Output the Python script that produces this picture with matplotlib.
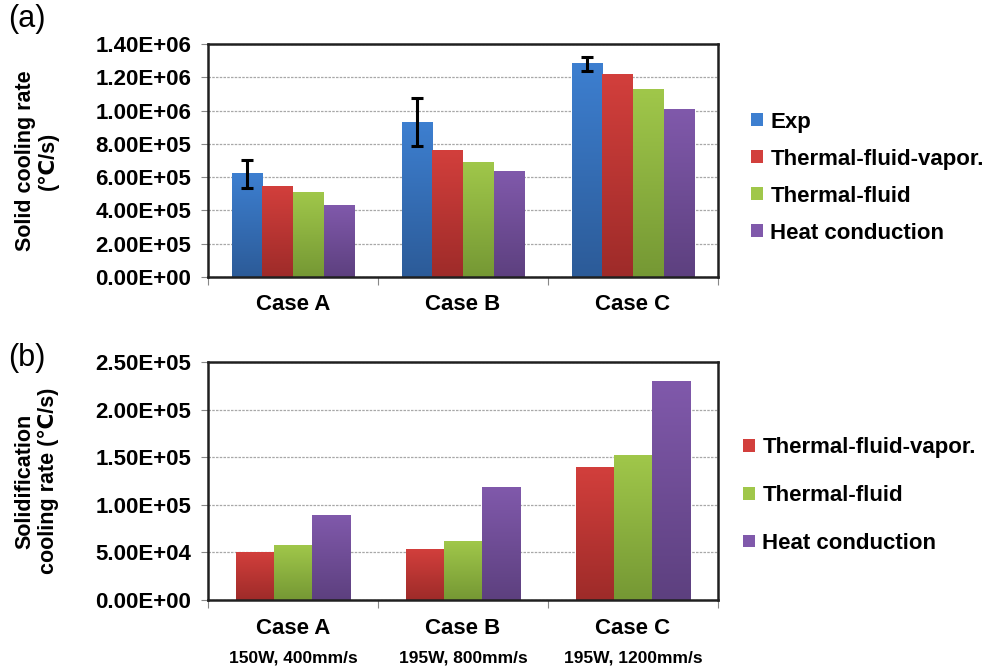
import numpy as np
import matplotlib
matplotlib.use("Agg")
import matplotlib.pyplot as plt
from matplotlib.colors import LinearSegmentedColormap
from matplotlib.patches import Patch
from matplotlib.ticker import FuncFormatter, FixedLocator

plt.rcParams['font.family'] = ['Liberation Sans', 'DejaVu Sans']

# Data
cases = ['Case A', 'Case B', 'Case C']
conditions = ['150W, 400mm/s', '195W, 800mm/s', '195W, 1200mm/s']

exp_solid = [6.2e5, 9.3e5, 1.28e6]
exp_err = [8.3e4, 1.45e5, 4.1e4]
tfv_solid = [5.45e5, 7.6e5, 1.215e6]
tf_solid = [5.1e5, 6.9e5, 1.125e6]
hc_solid = [4.3e5, 6.35e5, 1.005e6]

tfv_solidif = [5.0e4, 5.3e4, 1.39e5]
tf_solidif = [5.7e4, 6.1e4, 1.52e5]
hc_solidif = [8.9e4, 1.18e5, 2.29e5]

labels = ['Exp', 'Thermal-fluid-vapor.', 'Thermal-fluid', 'Heat conduction']
# (light top, dark bottom) for the Excel-like gradient
shades = {
    'Exp': ('#3d7fd0', '#2c5b98'),
    'Thermal-fluid-vapor.': ('#d23f3c', '#9e2b29'),
    'Thermal-fluid': ('#a0c74a', '#759834'),
    'Heat conduction': ('#8059ab', '#5d407f'),
}
legend_col = {k: v[0] for k, v in shades.items()}


def gradient_bars(ax, x, vals, width, name, **kw):
    bars = ax.bar(x, vals, width, color='none', edgecolor='none', zorder=2, **kw)
    cmap = LinearSegmentedColormap.from_list(name, [shades[name][1], shades[name][0]])
    grad = np.linspace(0, 1, 128).reshape(-1, 1)
    for b in bars:
        x0, w, h = b.get_x(), b.get_width(), b.get_height()
        ax.imshow(grad, extent=[x0, x0 + w, 0, h], origin='lower', aspect='auto',
                  cmap=cmap, zorder=2, interpolation='bilinear')
    return bars


def style_axes(ax, ymax, step):
    ax.set_xlim(-0.5, 2.5)
    ax.set_ylim(0, ymax)
    ax.set_yticks(np.arange(0, ymax + step / 2, step))
    ax.yaxis.set_major_formatter(FuncFormatter(lambda v, p: f"{v:.2E}"))
    ax.grid(axis='y', color='#a8a8a8', linestyle=(0, (2, 1)), linewidth=0.9, zorder=0)
    ax.set_axisbelow(True)
    for s in ax.spines.values():
        s.set_linewidth(1.8)
        s.set_color('#202020')
    ax.tick_params(axis='y', direction='out', length=5, color='#888888', width=0.8,
                   labelsize=16, pad=7)
    ax.set_xticks([])
    ax.xaxis.set_minor_locator(FixedLocator([-0.5, 0.5, 1.5, 2.5]))
    ax.tick_params(axis='x', which='minor', direction='out', length=6, color='#888888', width=0.8)
    for t in ax.get_yticklabels():
        t.set_fontweight('bold')


fig = plt.figure(figsize=(9.9, 6.68), dpi=100)
ax1 = fig.add_axes([0.2101, 0.5853, 0.5152, 0.3488])
ax2 = fig.add_axes([0.2101, 0.1018, 0.5152, 0.3563])

x = np.arange(len(cases))

# (a) solid cooling rate
w1 = 0.18
series1 = [exp_solid, tfv_solid, tf_solid, hc_solid]
for i, (vals, name) in enumerate(zip(series1, labels)):
    gradient_bars(ax1, x + (i - 1.5) * w1, vals, w1, name)
ax1.errorbar(x - 1.5 * w1, exp_solid, yerr=exp_err, fmt='none', ecolor='black',
             elinewidth=2.2, capsize=4, capthick=2.2, zorder=4)
style_axes(ax1, 1.4e6, 2e5)
for xi, c in zip(x, cases):
    ax1.text(xi, -0.12, c, transform=ax1.get_xaxis_transform(), ha='center', va='center',
             fontsize=16, fontweight='bold')
ax1.set_ylabel('Solid cooling rate\n(\u2103/s)', fontsize=15.5, fontweight='bold', labelpad=26,
               linespacing=1.15)
fig.text(0.008, 1 - 4 / 668, '(a)', fontsize=22, va='top')

handles1 = [Patch(facecolor=legend_col[n], edgecolor='none') for n in labels]
leg1 = fig.legend(handles1, labels, loc='center left', bbox_to_anchor=(0.759, 0.734),
                  frameon=False, handlelength=0.5, handleheight=0.5, handletextpad=0.35,
                  labelspacing=0.72, borderpad=0, borderaxespad=0,
                  prop={'size': 16, 'weight': 'bold'})

# (b) solidification cooling rate
w2 = 0.225
series2 = [tfv_solidif, tf_solidif, hc_solidif]
for i, (vals, name) in enumerate(zip(series2, labels[1:])):
    gradient_bars(ax2, x + (i - 1) * w2, vals, w2, name)
style_axes(ax2, 2.5e5, 5e4)
for xi, c, cond in zip(x, cases, conditions):
    ax2.text(xi, -0.12, c, transform=ax2.get_xaxis_transform(), ha='center', va='center',
             fontsize=16, fontweight='bold')
    ax2.text(xi, -0.245, cond, transform=ax2.get_xaxis_transform(), ha='center', va='center',
             fontsize=12.5, fontweight='bold')
ax2.set_ylabel('Solidification\ncooling rate (\u2103/s)', fontsize=15.5, fontweight='bold',
               labelpad=26, linespacing=1.15)
fig.text(0.008, 1 - 343 / 668, '(b)', fontsize=22, va='top')

handles2 = [Patch(facecolor=legend_col[n], edgecolor='none') for n in labels[1:]]
leg2 = fig.legend(handles2, labels[1:], loc='center left', bbox_to_anchor=(0.751, 0.258),
                  frameon=False, handlelength=0.5, handleheight=0.5, handletextpad=0.35,
                  labelspacing=1.2, borderpad=0, borderaxespad=0,
                  prop={'size': 16, 'weight': 'bold'})

fig.savefig('out.png', dpi=100)
